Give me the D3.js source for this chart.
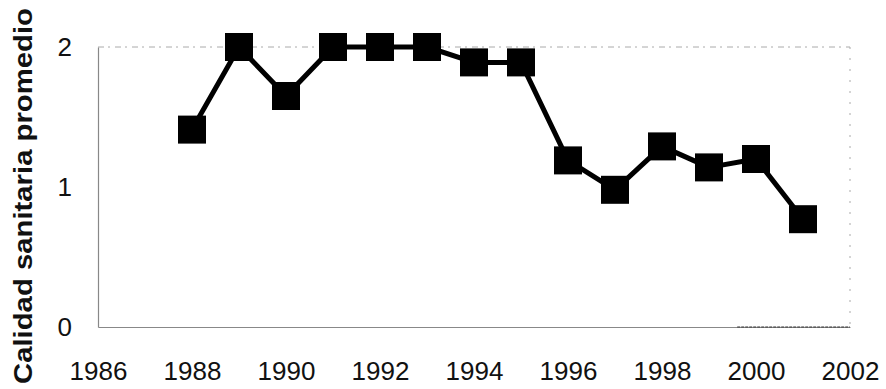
<!DOCTYPE html>
<html>
<head>
<meta charset="utf-8">
<script src="https://cdn.jsdelivr.net/npm/d3@7"></script>
<style>
  html, body { margin: 0; padding: 0; background: #fff; }
  svg { display: block; font-family: "Liberation Sans", Arial, sans-serif; }
</style>
</head>
<body>
<svg id="chart" width="886" height="389"></svg>
<script>
// Mean sanitary quality per year
const years = [1988, 1989, 1990, 1991, 1992, 1993, 1994, 1995, 1996, 1997, 1998, 1999, 2000, 2001];
const quality = [1.41, 2.0, 1.65, 2.0, 2.0, 2.0, 1.89, 1.89, 1.19, 0.98, 1.29, 1.14, 1.2, 0.77];
const xTicks = [1986, 1988, 1990, 1992, 1994, 1996, 1998, 2000, 2002];
const yTicks = [0, 1, 2];
const yTitle = "Calidad sanitaria promedio";

const svg = d3.select("#chart");
const x = d3.scaleLinear().domain([1986, 2002]).range([98, 850]);
const y = d3.scaleLinear().domain([0, 2]).range([327, 47]);

// frame: faint dashed top and right borders
svg.append("line")
  .attr("x1", x(1986)).attr("x2", x(2002))
  .attr("y1", y(2)).attr("y2", y(2))
  .attr("stroke", "#aaa").attr("stroke-width", 1)
  .attr("stroke-dasharray", "6,4,2,5");
svg.append("line")
  .attr("x1", x(2002)).attr("x2", x(2002))
  .attr("y1", y(2)).attr("y2", y(0))
  .attr("stroke", "#aaa").attr("stroke-width", 1)
  .attr("stroke-dasharray", "2,9");

// axes
const xAxis = d3.axisBottom(x).tickValues(xTicks).tickFormat(d3.format("d")).tickSize(0).tickPadding(35);
const gx = svg.append("g").attr("transform", `translate(0,${y(0)})`).call(xAxis);
gx.select(".domain").attr("stroke", "#888").attr("stroke-width", 1.2);
gx.selectAll("text").attr("font-size", 26).attr("fill", "#111").attr("font-family", "Liberation Sans, Arial, sans-serif");

// darker stretch of the baseline near the right end
svg.append("line")
  .attr("x1", x(1999.6)).attr("x2", x(2002))
  .attr("y1", y(0)).attr("y2", y(0))
  .attr("stroke", "#333").attr("stroke-width", 1.2)
  .attr("stroke-dasharray", "3,1");

const yAxis = d3.axisLeft(y).tickValues(yTicks).tickFormat(d3.format("d")).tickSize(0).tickPadding(26);
const gy = svg.append("g").attr("transform", `translate(${x(1986)},0)`).call(yAxis);
gy.select(".domain").attr("stroke", "#888").attr("stroke-width", 1.2);
gy.selectAll("text").attr("font-size", 26).attr("fill", "#111").attr("font-family", "Liberation Sans, Arial, sans-serif");

// y axis title
svg.append("text")
  .attr("transform", `translate(32,196) rotate(-90)`)
  .attr("text-anchor", "middle")
  .attr("font-size", 26)
  .attr("font-weight", "bold")
  .attr("fill", "#111")
  .attr("textLength", 376)
  .attr("lengthAdjust", "spacingAndGlyphs")
  .text(yTitle);

const data = years.map((yr, i) => ({ yr, v: quality[i] }));

// series line
svg.append("path")
  .datum(data)
  .attr("fill", "none")
  .attr("stroke", "#000")
  .attr("stroke-width", 5)
  .attr("stroke-linejoin", "round")
  .attr("d", d3.line().x(d => x(d.yr)).y(d => y(d.v)));

// square markers
const s = 28;
svg.append("g").selectAll("rect")
  .data(data)
  .join("rect")
  .attr("x", d => x(d.yr) - s / 2)
  .attr("y", d => y(d.v) - s / 2)
  .attr("width", s)
  .attr("height", s)
  .attr("fill", "#000");
</script>
</body>
</html>
